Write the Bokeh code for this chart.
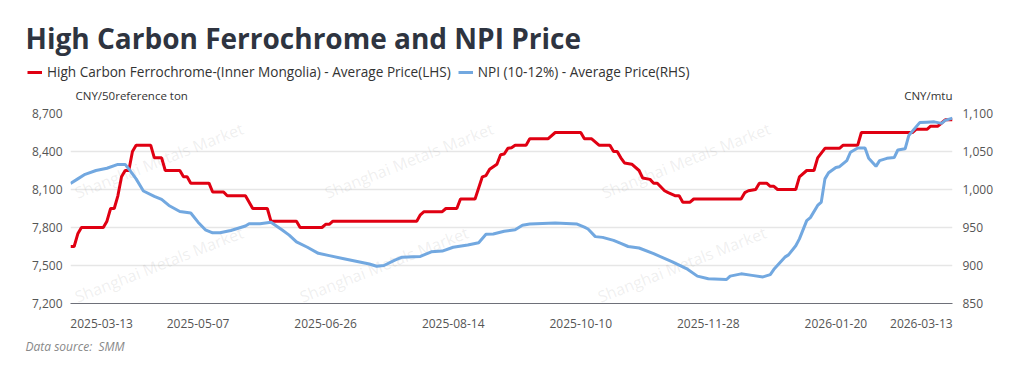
from bokeh.plotting import figure
from bokeh.layouts import column
from bokeh.models import (Range1d, LinearAxis, FixedTicker, NumeralTickFormatter,
                          Label, Legend, LegendItem)
from bokeh.core.properties import value
from bokeh.embed import file_html
from bokeh.resources import INLINE

# ---------------- data (trading-day index, value) ----------------
x_tick_idx = [0, 35, 70, 105, 140, 175, 210, 242]
x_tick_labels = ["2025-03-13", "2025-05-07", "2025-06-26", "2025-08-14",
                 "2025-10-10", "2025-11-28", "2026-01-20", "2026-03-13"]

fecr_idx = [0, 1, 2, 3, 9, 10, 11, 12, 13, 14, 15, 16, 17, 18, 22, 23, 25, 26, 30, 31,
            32, 33, 38, 39, 42, 43, 48, 50, 54, 55, 62, 63, 69, 70, 71, 72, 95, 96, 97, 102,
            103, 106, 107, 111, 113, 114, 115, 117, 118, 119, 120, 121, 122, 125, 126, 131,
            133, 140, 141, 143, 145, 148, 149, 150, 151, 152, 154, 156, 157, 159, 160, 161,
            163, 164, 166, 167, 168, 170, 171, 184, 185, 186, 188, 189, 191, 192, 193, 194,
            199, 200, 202, 204, 205, 207, 211, 212, 216, 217, 231, 232, 235, 236, 238, 239,
            240, 242]
fecr_price = [7650, 7650, 7750, 7800, 7800, 7850, 7950, 7950, 8050, 8200, 8250, 8250, 8400,
              8450, 8450, 8350, 8350, 8250, 8250, 8200, 8200, 8150, 8150, 8080, 8080, 8050,
              8050, 7950, 7950, 7850, 7850, 7800, 7800, 7825, 7825, 7850, 7850, 7900, 7925,
              7925, 7950, 7950, 8025, 8025, 8200, 8210, 8260, 8300, 8375, 8380, 8425, 8430,
              8450, 8450, 8500, 8500, 8550, 8550, 8500, 8500, 8450, 8450, 8400, 8400, 8350,
              8310, 8300, 8250, 8190, 8180, 8150, 8150, 8090, 8075, 8050, 8050, 8000, 8000,
              8025, 8025, 8075, 8090, 8100, 8150, 8150, 8125, 8125, 8100, 8100, 8200, 8250,
              8250, 8350, 8425, 8425, 8450, 8450, 8550, 8550, 8575, 8575, 8600, 8600, 8625,
              8650, 8650]

npi_idx = [0, 2, 4, 7, 10, 13, 15, 16, 18, 20, 23, 25, 27, 30, 33, 35, 37, 39, 41, 44,
           48, 49, 52, 55, 58, 60, 62, 65, 68, 71, 75, 79, 82, 84, 86, 89, 91, 96, 99, 102,
           105, 109, 112, 114, 116, 119, 122, 124, 126, 133, 139, 141, 142, 144, 146, 149,
           151, 153, 156, 160, 165, 169, 172, 175, 180, 181, 184, 187, 190, 192, 193, 196,
           197, 199, 200, 202, 203, 205, 206, 207, 208, 210, 211, 213, 214, 216, 218, 219,
           221, 222, 224, 226, 227, 229, 230, 233, 235, 237, 239, 240, 242]
npi_price = [1008, 1014, 1020, 1025, 1028, 1033, 1033, 1027, 1014, 998, 991, 987, 979, 971,
             969, 957, 947, 943, 943, 946, 952, 955, 955, 957, 947, 940, 931, 924, 916, 913,
             909, 905, 902, 899, 900, 907, 911, 912, 918, 919, 924, 927, 930, 941, 941.5,
             945, 947, 953, 954.5, 956, 954.5, 950.5, 948, 938, 937, 933, 929, 925, 923,
             915.5, 905, 896, 886, 882.5, 881.6, 886, 889, 887, 885, 888, 895, 911, 914, 926,
             935, 959, 963, 979, 983.5, 1014, 1022, 1029, 1030, 1038, 1049, 1054.6, 1054.5,
             1041, 1030.5, 1038, 1041, 1042, 1052, 1053.5, 1071, 1088, 1088.5, 1089, 1087,
             1091, 1094]

left_ticks = [7200, 7500, 7800, 8100, 8400, 8700]
right_ticks = [850, 900, 950, 1000, 1050, 1100]

title_text = "High Carbon Ferrochrome and NPI Price"
fecr_name = "High Carbon Ferrochrome-(Inner Mongolia) - Average Price(LHS)"
npi_name = "NPI (10-12%) - Average Price(RHS)"
left_unit = "CNY/50reference ton"
right_unit = "CNY/mtu"
source_text = "Data source:\u00a0\u00a0SMM"
watermark = "Shanghai Metals Market"

# ---------------- style ----------------
FONT = "Open Sans"
RED = "#E00012"
BLUE = "#72A8E0"
TXT = "#333333"
AX = "#555555"
W = 1024
NAN = float("nan")


def bare(fig):
    fig.outline_line_color = None
    fig.xgrid.visible = False
    fig.ygrid.visible = False
    fig.xaxis.visible = False
    fig.yaxis.visible = False
    fig.background_fill_color = "white"
    fig.border_fill_color = "white"
    fig.frame_align = False


# ---------------- header: title, legend, units ----------------
HH = 105
head = figure(width=W, height=HH, output_backend="svg", toolbar_location=None,
              x_range=Range1d(0, W), y_range=Range1d(HH, 0),
              min_border=0, min_border_left=0, min_border_right=0,
              min_border_top=0, min_border_bottom=0)
bare(head)
head.text(x=[25], y=[37], text=[title_text], text_font=value(FONT),
          text_font_style="bold", text_font_size="28px", text_color="#2E3440",
          text_baseline="middle", text_align="left")
head.text(x=[75], y=[95], text=[left_unit], text_font=value(FONT),
          text_font_size="11.5px", text_color=TXT, text_baseline="middle",
          text_align="left")
head.text(x=[952], y=[95], text=[right_unit], text_font=value(FONT),
          text_font_size="11.5px", text_color=TXT, text_baseline="middle",
          text_align="right")
lg1 = head.line(x=[NAN], y=[NAN], line_color=RED, line_width=3)
lg2 = head.line(x=[NAN], y=[NAN], line_color=BLUE, line_width=3)
legend = Legend(items=[LegendItem(label=fecr_name, renderers=[lg1]),
                       LegendItem(label=npi_name, renderers=[lg2])],
                orientation="horizontal", location=(27, 24),
                glyph_width=15, glyph_height=16, label_standoff=5, spacing=7,
                padding=0, margin=0, border_line_color=None,
                background_fill_alpha=0, label_text_font=FONT,
                label_text_font_size="13.6px", label_text_color=TXT,
                label_height=16, label_text_baseline="middle")
head.add_layout(legend)

# ---------------- main chart ----------------
p = figure(width=W, height=230, output_backend="svg", toolbar_location=None,
           x_range=Range1d(0, 242), y_range=Range1d(7200, 8700),
           min_border_left=70, min_border_right=72, min_border_top=8,
           min_border_bottom=32)
p.outline_line_color = None
p.background_fill_color = "white"
p.border_fill_color = "white"
p.frame_align = False
p.extra_y_ranges = {"r": Range1d(850, 1100)}

# watermarks (behind data), kept fully inside the plotting area
wm_pos = [(75, 193), (325, 193), (602, 193),
          (75, 297), (300, 297), (598, 297)]
for (px, py) in wm_pos:
    p.add_layout(Label(x=px - 70, y=303 - py, x_units="screen", y_units="screen",
                       text=watermark, angle=0.375, text_font=FONT,
                       text_font_size="16px", text_color="#999999", text_alpha=0.16,
                       text_baseline="alphabetic", level="underlay"))

p.xgrid.visible = False
p.ygrid.ticker = FixedTicker(ticks=left_ticks)
p.ygrid.grid_line_color = "#E6E6E6"
p.ygrid.grid_line_width = 1.5

r1 = p.line(fecr_idx, fecr_price, line_color=RED, line_width=3)
r2 = p.line(npi_idx, npi_price, line_color=BLUE, line_width=3, y_range_name="r")

ya = p.yaxis[0]
ya.ticker = FixedTicker(ticks=left_ticks)
ya.formatter = NumeralTickFormatter(format="0,0")
ya.axis_line_color = None
ya.major_tick_line_color = None
ya.minor_tick_line_color = None
ya.major_tick_out = 0
ya.major_tick_in = 0
ya.major_label_standoff = 8
ya.major_label_text_font = FONT
ya.major_label_text_font_size = "12px"
ya.major_label_text_color = AX

ra = LinearAxis(y_range_name="r", ticker=FixedTicker(ticks=right_ticks),
                formatter=NumeralTickFormatter(format="0,0"))
ra.axis_line_color = None
ra.major_tick_line_color = None
ra.minor_tick_line_color = None
ra.major_tick_out = 0
ra.major_tick_in = 0
ra.major_label_standoff = 10
ra.major_label_text_font = FONT
ra.major_label_text_font_size = "12px"
ra.major_label_text_color = AX
p.add_layout(ra, "right")

# first/last date labels are aligned to the plot edges (padded with no-break spaces)
PAD = "\u00a0" * 20
overrides = {i: s for i, s in zip(x_tick_idx, x_tick_labels)}
overrides[x_tick_idx[0]] = PAD + x_tick_labels[0]
overrides[x_tick_idx[-1]] = x_tick_labels[-1] + PAD

xa = p.xaxis[0]
xa.ticker = FixedTicker(ticks=x_tick_idx)
xa.major_label_overrides = overrides
xa.axis_line_color = "#6E7079"
xa.axis_line_width = 1
xa.major_tick_line_color = None
xa.minor_tick_line_color = None
xa.major_tick_out = 0
xa.major_tick_in = 0
xa.major_label_standoff = 11
xa.major_label_text_font = FONT
xa.major_label_text_font_size = "12px"
xa.major_label_text_color = AX

# ---------------- footer ----------------
HF = 33
foot = figure(width=W, height=HF, output_backend="svg", toolbar_location=None,
              x_range=Range1d(0, W), y_range=Range1d(HF, 0),
              min_border=0, min_border_left=0, min_border_right=0,
              min_border_top=0, min_border_bottom=0)
bare(foot)
foot.text(x=[25], y=[11], text=[source_text], text_font=value(FONT),
          text_font_size="12px", text_font_style="italic", text_color="#888888",
          text_baseline="middle", text_align="left")

layout = column(head, p, foot, spacing=0)
open("out.html", "w").write(file_html(layout, INLINE))
